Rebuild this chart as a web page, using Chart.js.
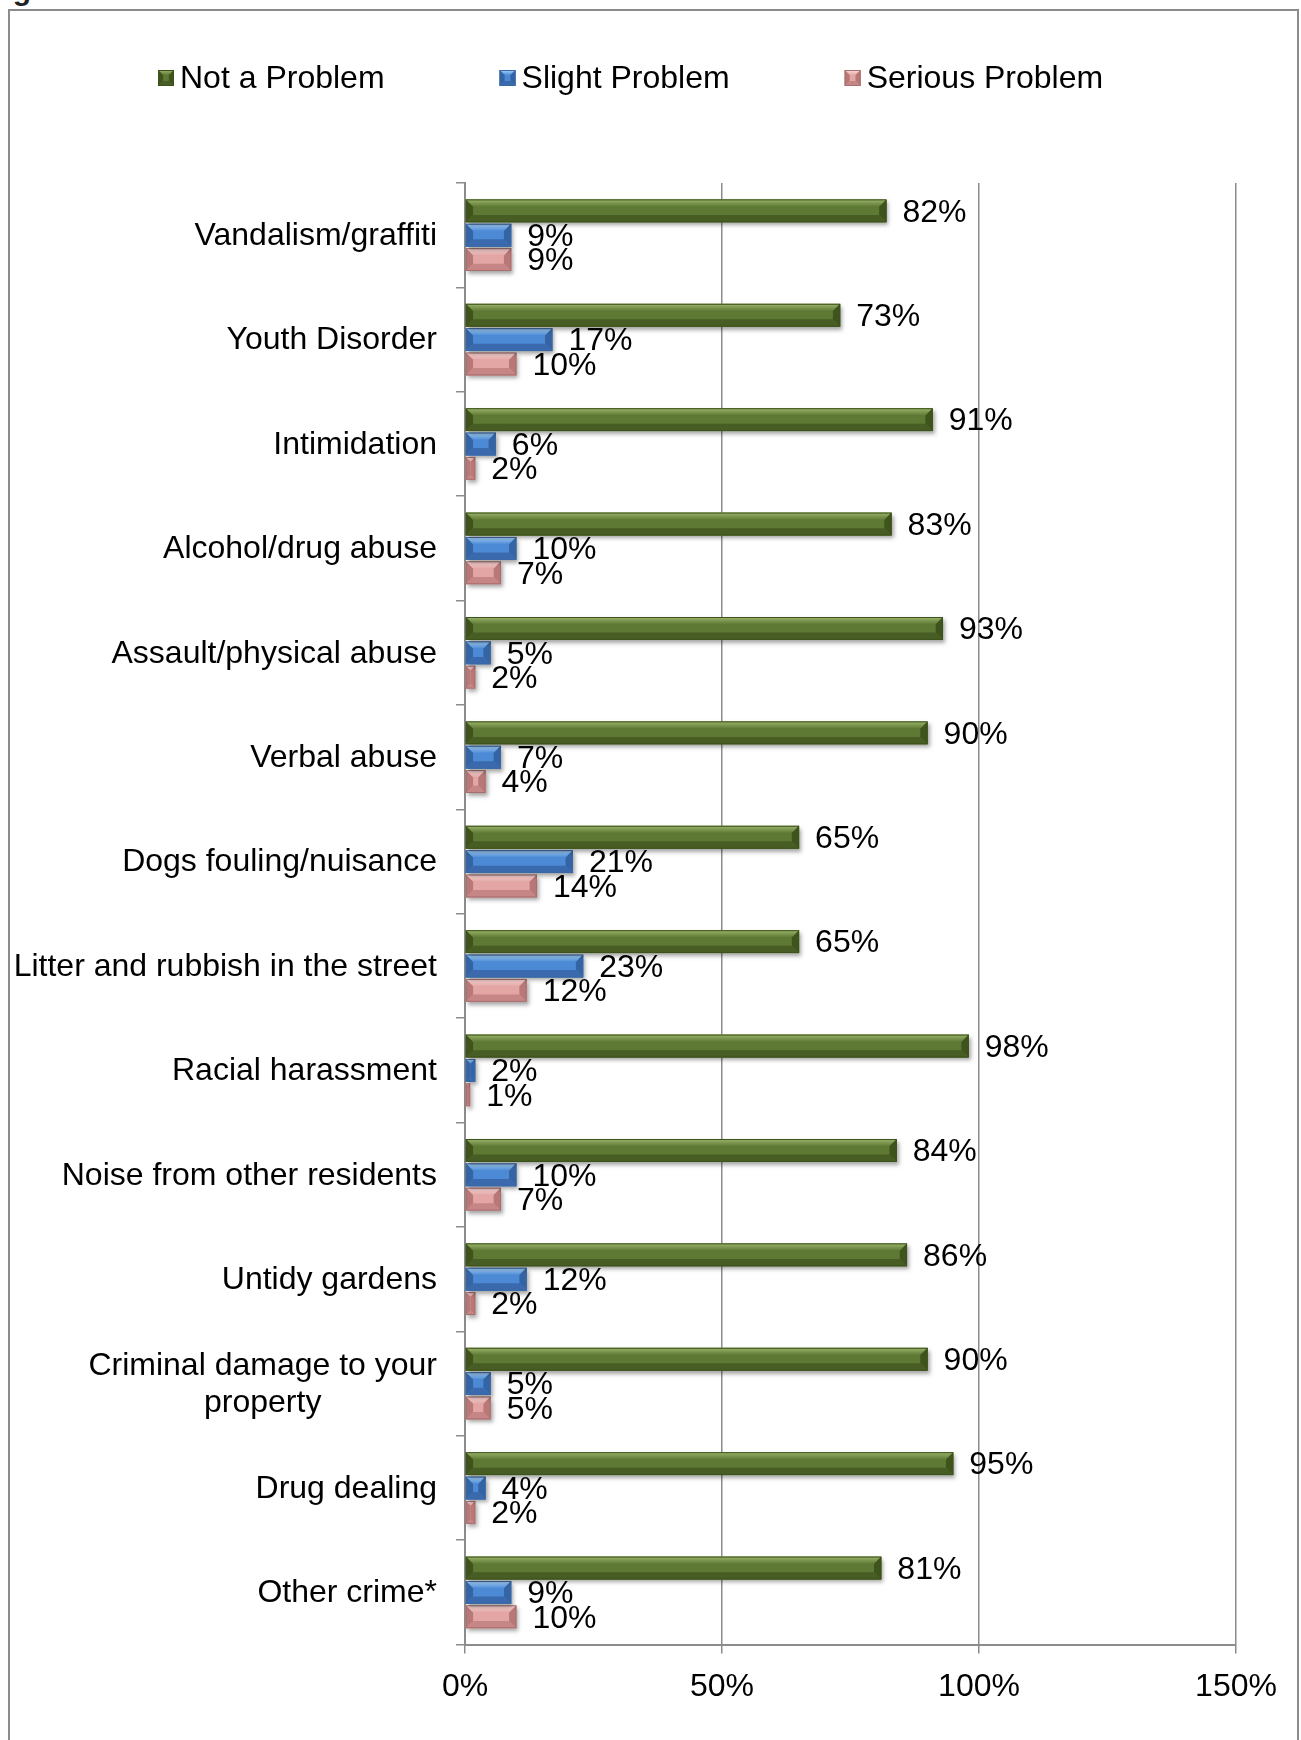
<!DOCTYPE html>
<html>
<head>
<meta charset="utf-8">
<title>Problems in the area</title>
<script src="https://cdn.jsdelivr.net/npm/chart.js@4.4.1/dist/chart.umd.min.js"></script>
<style>
    html, body { margin: 0; padding: 0; background: #fff; overflow: hidden; }
    #page { position: relative; width: 1301px; height: 1740px; overflow: hidden; }
    #frame { position: absolute; left: 8px; top: 9px; width: 1287px; height: 1800px; border: 2px solid #8c8c8c; pointer-events: none; }
    #caption { position: absolute; left: -14px; top: -25px; font: bold 30px "Liberation Sans", Arial, sans-serif; line-height: 30px; white-space: nowrap; color: #222; }
    canvas { position: absolute; left: 0; top: 0; }
</style>
</head>
<body>
<div id="page">
    <div id="caption">Figure</div>
    <canvas id="problemsChart" width="1301" height="1740"></canvas>
    <div id="frame"></div>
</div>
<script>
// ============================================================================
// DATA
// ============================================================================

const categories = [
    'Vandalism/graffiti',
    'Youth Disorder',
    'Intimidation',
    'Alcohol/drug abuse',
    'Assault/physical abuse',
    'Verbal abuse',
    'Dogs fouling/nuisance',
    'Litter and rubbish in the street',
    'Racial harassment',
    'Noise from other residents',
    'Untidy gardens',
    ['Criminal damage to your', 'property'],
    'Drug dealing',
    'Other crime*'
];

const seriesNames = ['Not a Problem', 'Slight Problem', 'Serious Problem'];

const notAProblem    = [82, 73, 91, 83, 93, 90, 65, 65, 98, 84, 86, 90, 95, 81];
const slightProblem  = [9, 17, 6, 10, 5, 7, 21, 23, 2, 10, 12, 5, 4, 9];
const seriousProblem = [9, 10, 2, 7, 2, 4, 14, 12, 1, 7, 2, 5, 2, 10];

const xTicks = [0, 50, 100, 150];

// ============================================================================
// STYLE
// ============================================================================

const FONT = '"Liberation Sans", Arial, sans-serif';
const AXIS_GREY = '#8c8c8c';

// bevelled bar colours: face, light top facet, dark bottom facet, end facets
const barLooks = [
    { face: '#5e7934', top: '#9bb56b', bottom: '#475d23', side: '#3f541d', edge: '#3d511c' },
    { face: '#4c8ad6', top: '#abd6fb', bottom: '#3a6aad', side: '#3564a4', edge: '#3a68a4' },
    { face: '#e3a6a5', top: '#fcdedd', bottom: '#c68685', side: '#b87877', edge: '#a86f6e' }
];

function drawBevel(ctx, left, top, right, bottom, look, shadow) {
    const w = right - left;
    const h = bottom - top;
    if (w <= 0 || h <= 0) return;
    const b = Math.min(h * 0.32, w / 2);

    ctx.save();
    if (shadow) {
        ctx.shadowColor = 'rgba(0,0,0,0.35)';
        ctx.shadowBlur = 4;
        ctx.shadowOffsetX = 2;
        ctx.shadowOffsetY = 3;
    }
    ctx.fillStyle = look.face;
    ctx.fillRect(left, top, w, h);
    ctx.restore();

    const facet = (pts, color) => {
        ctx.beginPath();
        ctx.moveTo(pts[0][0], pts[0][1]);
        for (let i = 1; i < pts.length; i++) ctx.lineTo(pts[i][0], pts[i][1]);
        ctx.closePath();
        ctx.fillStyle = color;
        ctx.fill();
    };

    const topGrad = ctx.createLinearGradient(0, top, 0, top + b);
    topGrad.addColorStop(0, look.top);
    topGrad.addColorStop(1, look.face);
    facet([[left, top], [right, top], [right - b, top + b], [left + b, top + b]], topGrad);
    facet([[left, bottom], [right, bottom], [right - b, bottom - b], [left + b, bottom - b]], look.bottom);
    facet([[right, top], [right, bottom], [right - b, bottom - b], [right - b, top + b]], look.side);
    facet([[left, top], [left, bottom], [left + b, bottom - b], [left + b, top + b]], look.side);

    ctx.strokeStyle = look.edge;
    ctx.lineWidth = 1;
    ctx.strokeRect(left + 0.5, top + 0.5, w - 1, h - 1);
}

// ============================================================================
// PLUGINS
// ============================================================================

// replace the flat bars with bevelled ones
const bevelBars = {
    id: 'bevelBars',
    beforeDatasetDraw(chart, args) {
        const ctx = chart.ctx;
        const look = barLooks[args.index];
        args.meta.data.forEach(bar => {
            const p = bar.getProps(['x', 'y', 'base', 'height'], true);
            drawBevel(ctx,
                Math.min(p.x, p.base), p.y - p.height / 2,
                Math.max(p.x, p.base), p.y + p.height / 2,
                look, true);
        });
        return false;
    }
};

// percentage next to the end of each bar
const valueLabels = {
    id: 'valueLabels',
    afterDatasetsDraw(chart) {
        const ctx = chart.ctx;
        ctx.save();
        ctx.font = '32px ' + FONT;
        ctx.fillStyle = '#000';
        ctx.textAlign = 'left';
        ctx.textBaseline = 'middle';
        chart.data.datasets.forEach((ds, i) => {
            chart.getDatasetMeta(i).data.forEach((bar, j) => {
                ctx.fillText(ds.data[j] + '%', bar.x + 16, bar.y + 2);
            });
        });
        ctx.restore();
    }
};

// category names, with wrapped names centred on their own block
const categoryLabels = {
    id: 'categoryLabels',
    afterDraw(chart) {
        const ctx = chart.ctx;
        const scale = chart.scales.y;
        const labelRight = chart.chartArea.left - 28;
        const lineHeight = 37;
        ctx.save();
        ctx.font = '32px ' + FONT;
        ctx.fillStyle = '#000';
        ctx.textBaseline = 'middle';
        chart.data.labels.forEach((label, i) => {
            const y = scale.getPixelForTick(i) + 1;
            if (Array.isArray(label)) {
                const blockWidth = Math.max(...label.map(l => ctx.measureText(l).width));
                const cx = labelRight - blockWidth / 2;
                const y0 = y - (label.length - 1) * lineHeight / 2;
                ctx.textAlign = 'center';
                label.forEach((line, k) => ctx.fillText(line, cx, y0 + k * lineHeight));
            } else {
                ctx.textAlign = 'right';
                ctx.fillText(label, labelRight, y);
            }
        });
        ctx.restore();
    }
};

// legend row across the top
const topLegend = {
    id: 'topLegend',
    afterDraw(chart) {
        const ctx = chart.ctx;
        const box = 16;
        const y = 78;
        let x = 158;
        ctx.save();
        ctx.font = '32px ' + FONT;
        ctx.textAlign = 'left';
        ctx.textBaseline = 'middle';
        chart.data.datasets.forEach((ds, i) => {
            drawBevel(ctx, x, y - box / 2, x + box, y + box / 2, barLooks[i], false);
            ctx.fillStyle = '#000';
            ctx.fillText(ds.label, x + box + 6, y + 1);
            x += box + 6 + ctx.measureText(ds.label).width + 115;
        });
        ctx.restore();
    }
};

// ============================================================================
// CHART
// ============================================================================

const ctx = document.getElementById('problemsChart');

new Chart(ctx, {
    type: 'bar',
    data: {
        labels: categories,
        datasets: [
            { label: seriesNames[0], data: notAProblem, backgroundColor: barLooks[0].face },
            { label: seriesNames[1], data: slightProblem, backgroundColor: barLooks[1].face },
            { label: seriesNames[2], data: seriousProblem, backgroundColor: barLooks[2].face }
        ]
    },
    options: {
        indexAxis: 'y',
        responsive: false,
        animation: false,
        devicePixelRatio: 1,
        categoryPercentage: 0.7,
        barPercentage: 0.94,
        layout: {
            padding: { left: 14, right: 65, top: 183, bottom: 20 }
        },
        plugins: {
            legend: { display: false },
            title: { display: false },
            tooltip: { enabled: false }
        },
        scales: {
            x: {
                min: xTicks[0],
                max: xTicks[xTicks.length - 1],
                afterBuildTicks: axis => {
                    axis.ticks = xTicks.map(v => ({ value: v }));
                },
                ticks: {
                    callback: v => v + '%',
                    color: '#000',
                    padding: 14,
                    maxRotation: 0,
                    font: { family: FONT, size: 32 }
                },
                grid: {
                    color: AXIS_GREY,
                    lineWidth: 1.5,
                    tickLength: 9,
                    drawOnChartArea: true
                },
                border: { color: AXIS_GREY, width: 2 }
            },
            y: {
                afterFit: axis => {
                    axis.width = 451;
                },
                ticks: {
                    color: 'rgba(0,0,0,0)',
                    padding: 19,
                    font: { family: FONT, size: 32 }
                },
                grid: {
                    color: AXIS_GREY,
                    lineWidth: 1.5,
                    tickLength: 9,
                    drawOnChartArea: false
                },
                border: { color: AXIS_GREY, width: 2 }
            }
        }
    },
    plugins: [bevelBars, valueLabels, categoryLabels, topLegend]
});
</script>
</body>
</html>
